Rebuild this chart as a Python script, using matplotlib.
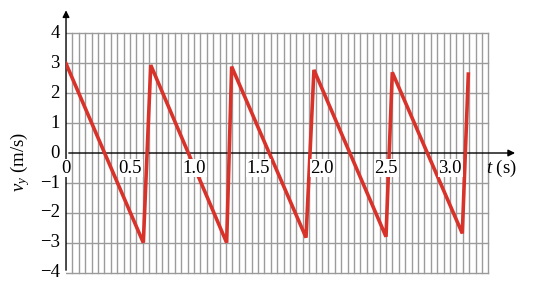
import numpy as np
import matplotlib.pyplot as plt

plt.rcParams['font.family'] = ['Liberation Serif', 'DejaVu Serif']
plt.rcParams['mathtext.fontset'] = 'custom'
plt.rcParams['mathtext.rm'] = 'Liberation Serif'
plt.rcParams['mathtext.it'] = 'Liberation Serif:italic'

# corner points of the sawtooth
t_pts = [0, 0.604, 0.662, 1.255, 1.294, 1.875, 1.937, 2.500, 2.549, 3.096, 3.143]
vy_pts = [2.98, -2.99, 2.93, -2.99, 2.88, -2.82, 2.77, -2.79, 2.69, -2.68, 2.63]

x_ticks = [0, 0.5, 1.0, 1.5, 2.0, 2.5, 3.0]
x_tick_labels = ['0', '0.5', '1.0', '1.5', '2.0', '2.5', '3.0']
y_ticks = [4, 3, 2, 1, 0, -1, -2, -3, -4]
y_tick_labels = ['4', '3', '2', '1', '0', '\u22121', '\u22122', '\u22123', '\u22124']

t_max = 3.3
grid_step = 0.05

fig = plt.figure(figsize=(5.35, 2.89), dpi=100)
ax = fig.add_axes([0.1234, 0.045, 0.8613, 0.929])
ax.set_xlim(0, 3.6)
ax.set_ylim(-4.1, 4.85)
ax.axis('off')

grid_col = '#9b9b9b'
for x in np.arange(grid_step, t_max + 1e-6, grid_step):
    ax.plot([x, x], [-4, 4], color=grid_col, lw=1.0, zorder=1)
for y in y_ticks:
    if y != 0:
        ax.plot([0, t_max], [y, y], color=grid_col, lw=1.0, zorder=1)

# axes with arrows
ax.annotate('', xy=(3.53, 0), xytext=(0, 0),
            arrowprops=dict(arrowstyle='-|>', color='black', lw=1.0, mutation_scale=10),
            zorder=2)
ax.annotate('', xy=(0, 4.85), xytext=(0, -4),
            arrowprops=dict(arrowstyle='-|>', color='black', lw=1.0, mutation_scale=10),
            zorder=2)

ax.plot(t_pts, vy_pts, color='#d8332b', lw=2.6, zorder=3, solid_joinstyle='miter')

fs = 13.5
for x, lab in zip(x_ticks, x_tick_labels):
    ax.text(x, -0.5, lab, ha='center', va='center', fontsize=fs, zorder=4,
            bbox=dict(facecolor='white', edgecolor='none', pad=0.5))
for y, lab in zip(y_ticks, y_tick_labels):
    ax.text(-0.05, y, lab, ha='right', va='center', fontsize=fs, clip_on=False)

ax.text(-0.36, -0.3, r'$v_y$ (m/s)', rotation=90, ha='center', va='center', fontsize=fs)
ax.text(3.40, -0.5, r'$t$ (s)', ha='center', va='center', fontsize=fs)

fig.savefig('out.png', dpi=100)
